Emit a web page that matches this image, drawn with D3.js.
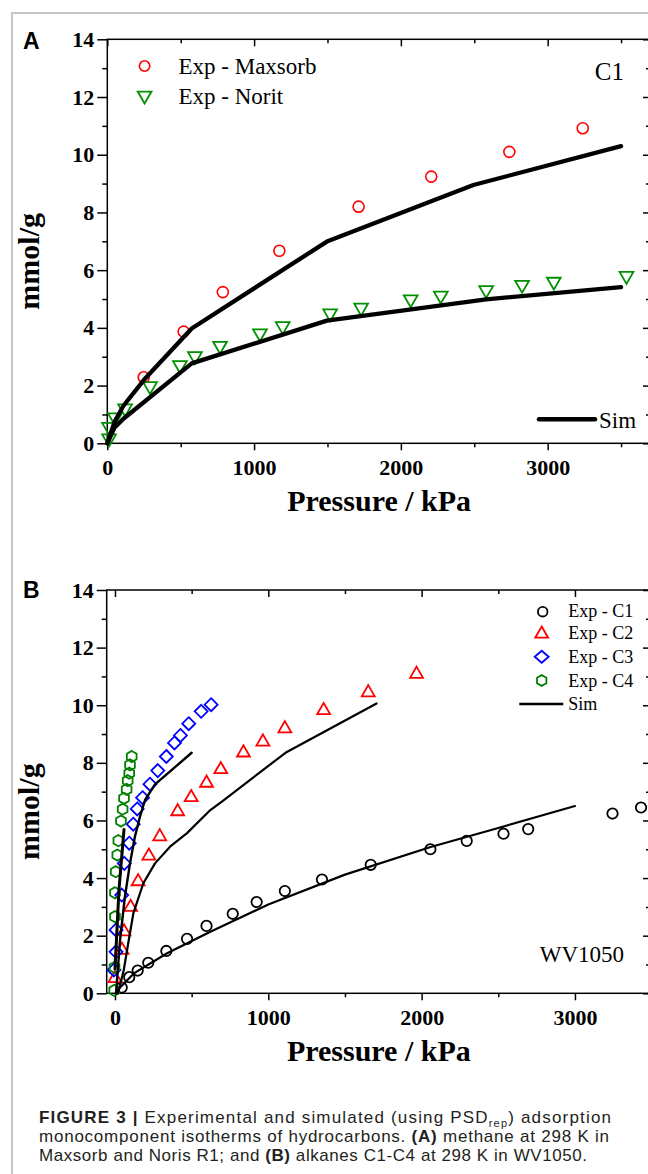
<!DOCTYPE html>
<html>
<head>
<meta charset="utf-8">
<script src="https://cdn.jsdelivr.net/npm/d3@7"></script>
<style>
  body { margin: 0; background: #fff; }
  svg { display: block; }
</style>
</head>
<body>
<div id="chart"></div>
<script>
// ---- panel A : methane, Maxsorb / Norit ----
const maxsorbP = [248, 520, 787, 1172, 1712, 2207, 2739, 3239];
const maxsorbQ = [2.29, 3.87, 5.24, 6.67, 8.2, 9.24, 10.1, 10.92];
const noritP = [12, 12, 52, 121, 291, 495, 597, 768, 1040, 1195, 1518, 1729, 2067, 2272, 2581, 2826, 3042, 3537];
const noritQ = [0.17, 0.57, 0.9, 1.21, 1.98, 2.71, 3.02, 3.38, 3.81, 4.06, 4.5, 4.7, 4.99, 5.12, 5.31, 5.49, 5.6, 5.8];
const simMaxsorbP = [0, 50, 110, 250, 575, 1496, 2494, 3500];
const simMaxsorbQ = [0, 0.75, 1.3, 2.2, 3.98, 6.99, 8.95, 10.3];
const simNoritP = [0, 50, 110, 575, 1496, 2581, 3500];
const simNoritQ = [0, 0.55, 0.85, 2.77, 4.25, 4.99, 5.41];

// ---- panel B : alkanes C1-C4 in WV1050 ----
const c1P = [44, 93, 148, 217, 335, 470, 597, 768, 924, 1108, 1350, 1668, 2057, 2294, 2534, 2695, 3245, 3431];
const c1Q = [0.2, 0.56, 0.79, 1.06, 1.47, 1.89, 2.34, 2.76, 3.17, 3.55, 3.95, 4.46, 5.0, 5.29, 5.54, 5.7, 6.24, 6.45];
const c2P = [0, 46, 59, 102, 151, 221, 292, 409, 497, 597, 690, 838, 965, 1108, 1361, 1652, 1967];
const c2Q = [0.52, 1.5, 2.14, 2.99, 3.88, 4.77, 5.44, 6.31, 6.8, 7.3, 7.77, 8.35, 8.73, 9.19, 9.82, 10.44, 11.08];
const c3P = [-7, 7, 7, 44, 61, 93, 119, 145, 180, 228, 279, 335, 388, 427, 481, 562, 627];
const c3Q = [0.81, 1.44, 2.2, 3.41, 4.51, 5.21, 5.87, 6.4, 6.79, 7.26, 7.73, 8.22, 8.69, 8.95, 9.36, 9.79, 10.02];
const c4P = [-5, -3, 0, 0, 5, 15, 22, 39, 50, 59, 76, 83, 93, 98, 109];
const c4Q = [0.1, 0.9, 2.66, 3.49, 4.22, 4.8, 5.3, 5.98, 6.39, 6.77, 7.08, 7.38, 7.64, 7.93, 8.22];
const simC1P = [10, 33, 123, 340, 622, 1000, 1500, 2059, 2500, 3000];
const simC1Q = [0, 0.2, 0.69, 1.39, 2.14, 3.08, 4.12, 5.08, 5.74, 6.5];
const simC2P = [20, 57, 90, 120, 185, 261, 359, 470, 622, 708, 1112, 1706];
const simC2Q = [0, 0.8, 1.85, 2.78, 3.82, 4.51, 5.09, 5.56, 6.36, 6.7, 8.35, 10.06];
const simC3P = [7, 33, 65, 98, 130, 163, 196, 261, 500];
const simC3Q = [0, 1.85, 3.36, 4.51, 5.44, 6.13, 6.71, 7.25, 8.35];
const simC4P = [0, 26, 59];
const simC4Q = [0.85, 3.6, 5.69];

// ticks
const yMajor = [0, 2, 4, 6, 8, 10, 12, 14];
const yMinor = [1, 3, 5, 7, 9, 11, 13];
const xMajor = [0, 1000, 2000, 3000];
const xMinor = [500, 1500, 2500, 3500];

const serif = "'Liberation Serif', 'Times New Roman', serif";
const sans = "'Liberation Sans', Arial, sans-serif";

const width = 648;
const height = 1174;

const svg = d3.select("#chart")
    .append("svg")
    .attr("width", width)
    .attr("height", height);

svg.append("rect").attr("width", width).attr("height", height).attr("fill", "#fff");

// grey figure frame
svg.append("path")
    .attr("d", "M12," + height + "V13H" + width)
    .attr("fill", "none")
    .attr("stroke", "#c6c6c6")
    .attr("stroke-width", 2);

const zip = (a, b) => a.map((v, i) => [v, b[i]]);

function styleAxis(sel) {
    sel.select(".domain").remove();
    sel.selectAll(".tick line").attr("stroke", "#000").attr("stroke-width", 1.5);
    sel.attr("font-family", serif).attr("font-size", 22).attr("font-weight", "bold");
    sel.selectAll("text").attr("fill", "#000");
}

function makePanel(cfg) {
    const x = d3.scaleLinear().domain(cfg.xDomain).range([cfg.left, cfg.right]);
    const y = d3.scaleLinear().domain([0, 14]).range([cfg.bottom, cfg.top]);
    const g = svg.append("g");

    // left
    g.append("g").attr("transform", "translate(" + cfg.left + ",0)")
        .call(d3.axisLeft(y).tickValues(yMajor).tickSize(10).tickPadding(3).tickFormat(d3.format("d")))
        .call(styleAxis);
    g.append("g").attr("transform", "translate(" + cfg.left + ",0)")
        .call(d3.axisLeft(y).tickValues(yMinor).tickSize(5).tickFormat(""))
        .call(styleAxis);
    // right (ticks inward)
    g.append("g").attr("transform", "translate(" + cfg.right + ",0)")
        .call(d3.axisRight(y).tickValues(yMajor).tickSize(-8).tickFormat(""))
        .call(styleAxis);
    g.append("g").attr("transform", "translate(" + cfg.right + ",0)")
        .call(d3.axisRight(y).tickValues(yMinor).tickSize(-5).tickFormat(""))
        .call(styleAxis);
    // bottom
    const xm = xMajor.filter(v => v <= cfg.xDomain[1]);
    const xn = xMinor.filter(v => v <= cfg.xDomain[1]);
    g.append("g").attr("transform", "translate(0," + cfg.bottom + ")")
        .call(d3.axisBottom(x).tickValues(xm).tickSize(7).tickPadding(9).tickFormat(d3.format("d")))
        .call(styleAxis);
    g.append("g").attr("transform", "translate(0," + cfg.bottom + ")")
        .call(d3.axisBottom(x).tickValues(xn).tickSize(4).tickFormat(""))
        .call(styleAxis);
    // top (ticks inward)
    g.append("g").attr("transform", "translate(0," + cfg.top + ")")
        .call(d3.axisTop(x).tickValues(xm).tickSize(-7).tickFormat(""))
        .call(styleAxis);
    g.append("g").attr("transform", "translate(0," + cfg.top + ")")
        .call(d3.axisTop(x).tickValues(xn).tickSize(-4).tickFormat(""))
        .call(styleAxis);

    g.append("rect")
        .attr("x", cfg.left).attr("y", cfg.top)
        .attr("width", cfg.right - cfg.left).attr("height", cfg.bottom - cfg.top)
        .attr("fill", "none").attr("stroke", "#000").attr("stroke-width", 1.5);

    // axis titles
    g.append("text")
        .attr("x", (cfg.left + cfg.right) / 2).attr("y", cfg.bottom + 68)
        .attr("text-anchor", "middle")
        .attr("font-family", serif).attr("font-size", 30).attr("font-weight", "bold")
        .text("Pressure / kPa");
    g.append("text")
        .attr("transform", "translate(39," + ((cfg.top + cfg.bottom) / 2 + 20) + ") rotate(-90)")
        .attr("text-anchor", "middle")
        .attr("font-family", serif).attr("font-size", 30).attr("font-weight", "bold")
        .text("mmol/g");
    g.append("text")
        .attr("x", 23).attr("y", cfg.labelY)
        .attr("font-family", sans).attr("font-size", 23).attr("font-weight", "bold")
        .text(cfg.label);

    return { x, y, g };
}

const hexPath = r => d3.range(6).map(i => {
    const a = -Math.PI / 2 + i * Math.PI / 3;
    return (i ? "L" : "M") + (r * Math.cos(a)).toFixed(2) + "," + (r * Math.sin(a)).toFixed(2);
}).join("") + "Z";
const diamondPath = (w, h) => "M0," + (-h) + "L" + w + ",0L0," + h + "L" + (-w) + ",0Z";
const triUp = d3.symbol().type(d3.symbolTriangle).size(72)();
const triDownA = d3.symbol().type(d3.symbolTriangle).size(82)();

function drawPoints(p, data, shape, color, sw, rotate) {
    p.g.append("g").selectAll("path")
        .data(data)
        .enter()
        .append("path")
        .attr("d", shape)
        .attr("transform", d => "translate(" + p.x(d[0]) + "," + p.y(d[1]) + ")" + (rotate ? " rotate(180)" : ""))
        .attr("fill", "none")
        .attr("stroke", color)
        .attr("stroke-width", sw);
}

function drawCircles(p, data, r, color, sw) {
    p.g.append("g").selectAll("circle")
        .data(data)
        .enter()
        .append("circle")
        .attr("cx", d => p.x(d[0]))
        .attr("cy", d => p.y(d[1]))
        .attr("r", r)
        .attr("fill", "none")
        .attr("stroke", color)
        .attr("stroke-width", sw);
}

function drawLine(p, data, sw) {
    const line = d3.line().x(d => p.x(d[0])).y(d => p.y(d[1]));
    p.g.append("path")
        .attr("d", line(data))
        .attr("fill", "none")
        .attr("stroke", "#000")
        .attr("stroke-width", sw)
        .attr("stroke-linejoin", "round")
        .attr("stroke-linecap", "round");
}

// ================= Panel A =================
const pA = makePanel({ left: 107.3, right: 651, top: 39.3, bottom: 443.3, xDomain: [0, 3704], label: "A", labelY: 48.5 });

drawCircles(pA, zip(maxsorbP, maxsorbQ), 5.5, "#ff0000", 1.6);
drawPoints(pA, zip(noritP, noritQ), triDownA, "#009000", 1.8, true);
drawLine(pA, zip(simMaxsorbP, simMaxsorbQ), 4.3);
drawLine(pA, zip(simNoritP, simNoritQ), 4.3);

// legend A
pA.g.append("circle").attr("cx", 144.6).attr("cy", 66).attr("r", 5.2)
    .attr("fill", "none").attr("stroke", "#ff0000").attr("stroke-width", 1.6);
pA.g.append("path").attr("d", triDownA).attr("transform", "translate(144.6,95.5) rotate(180)")
    .attr("fill", "none").attr("stroke", "#009000").attr("stroke-width", 1.8);
pA.g.append("text").attr("x", 178.5).attr("y", 73.5)
    .attr("font-family", serif).attr("font-size", 23).text("Exp - Maxsorb");
pA.g.append("text").attr("x", 178.5).attr("y", 103.5)
    .attr("font-family", serif).attr("font-size", 23).text("Exp - Norit");
pA.g.append("text").attr("x", 624).attr("y", 80).attr("text-anchor", "end")
    .attr("font-family", serif).attr("font-size", 25).text("C1");
pA.g.append("line").attr("x1", 539).attr("x2", 595).attr("y1", 419.3).attr("y2", 419.3)
    .attr("stroke", "#000").attr("stroke-width", 4.5).attr("stroke-linecap", "round");
pA.g.append("text").attr("x", 599).attr("y", 428)
    .attr("font-family", serif).attr("font-size", 23).text("Sim");

// ================= Panel B =================
const pB = makePanel({ left: 106.7, right: 651, top: 590, bottom: 993.3, xDomain: [-54, 3496], label: "B", labelY: 598 });

drawCircles(pB, zip(c1P, c1Q), 5.2, "#000", 1.8);
drawPoints(pB, zip(c2P, c2Q), triUp, "#ff0000", 1.8, false);
drawPoints(pB, zip(c3P, c3Q), diamondPath(6.5, 6.5), "#0000ff", 1.8, false);
drawPoints(pB, zip(c4P, c4Q), hexPath(5.6), "#008000", 1.8, false);
drawLine(pB, zip(simC1P, simC1Q), 2.2);
drawLine(pB, zip(simC2P, simC2Q), 2.2);
drawLine(pB, zip(simC3P, simC3Q), 2.4);
drawLine(pB, zip(simC4P, simC4Q), 3);

// legend B
const legB = [
    { label: "Exp - C1", y: 616.7 },
    { label: "Exp - C2", y: 639.3 },
    { label: "Exp - C3", y: 662.7 },
    { label: "Exp - C4", y: 686.7 }
];
pB.g.append("circle").attr("cx", 542.7).attr("cy", 611.7).attr("r", 4.8)
    .attr("fill", "none").attr("stroke", "#000").attr("stroke-width", 1.8);
pB.g.append("path").attr("d", triUp).attr("transform", "translate(541.7,634)")
    .attr("fill", "none").attr("stroke", "#ff0000").attr("stroke-width", 1.8);
pB.g.append("path").attr("d", diamondPath(7, 6)).attr("transform", "translate(541.7,656.7)")
    .attr("fill", "none").attr("stroke", "#0000ff").attr("stroke-width", 1.8);
pB.g.append("path").attr("d", hexPath(5.4)).attr("transform", "translate(541.7,680.5)")
    .attr("fill", "none").attr("stroke", "#008000").attr("stroke-width", 1.8);
pB.g.selectAll(".legtext")
    .data(legB)
    .enter()
    .append("text")
    .attr("x", 568.3)
    .attr("y", d => d.y)
    .attr("font-family", serif).attr("font-size", 18)
    .text(d => d.label);
pB.g.append("line").attr("x1", 519.3).attr("x2", 563.3).attr("y1", 704).attr("y2", 704)
    .attr("stroke", "#000").attr("stroke-width", 2.5);
pB.g.append("text").attr("x", 568.3).attr("y", 710)
    .attr("font-family", serif).attr("font-size", 18).text("Sim");
pB.g.append("text").attr("x", 624).attr("y", 961.5).attr("text-anchor", "end")
    .attr("font-family", serif).attr("font-size", 23).text("WV1050");

// ================= Caption =================
const cap = svg.append("g").attr("font-family", sans).attr("font-size", 17).attr("fill", "#231f20");

const l1 = cap.append("text").attr("x", 39).attr("y", 1123)
    .attr("textLength", 572).attr("lengthAdjust", "spacing");
l1.append("tspan").attr("font-weight", "bold").text("FIGURE 3 |");
l1.append("tspan").text(" Experimental and simulated (using PSD");
l1.append("tspan").attr("font-size", 11).attr("dy", 4).text("rep");
l1.append("tspan").attr("dy", -4).text(") adsorption");

const l2 = cap.append("text").attr("x", 39).attr("y", 1142)
    .attr("textLength", 570).attr("lengthAdjust", "spacing");
l2.append("tspan").text("monocomponent isotherms of hydrocarbons. ");
l2.append("tspan").attr("font-weight", "bold").text("(A)");
l2.append("tspan").text(" methane at 298 K in");

const l3 = cap.append("text").attr("x", 39).attr("y", 1161)
    .attr("textLength", 548).attr("lengthAdjust", "spacing");
l3.append("tspan").text("Maxsorb and Noris R1; and ");
l3.append("tspan").attr("font-weight", "bold").text("(B)");
l3.append("tspan").text(" alkanes C1-C4 at 298 K in WV1050.");
</script>
</body>
</html>
